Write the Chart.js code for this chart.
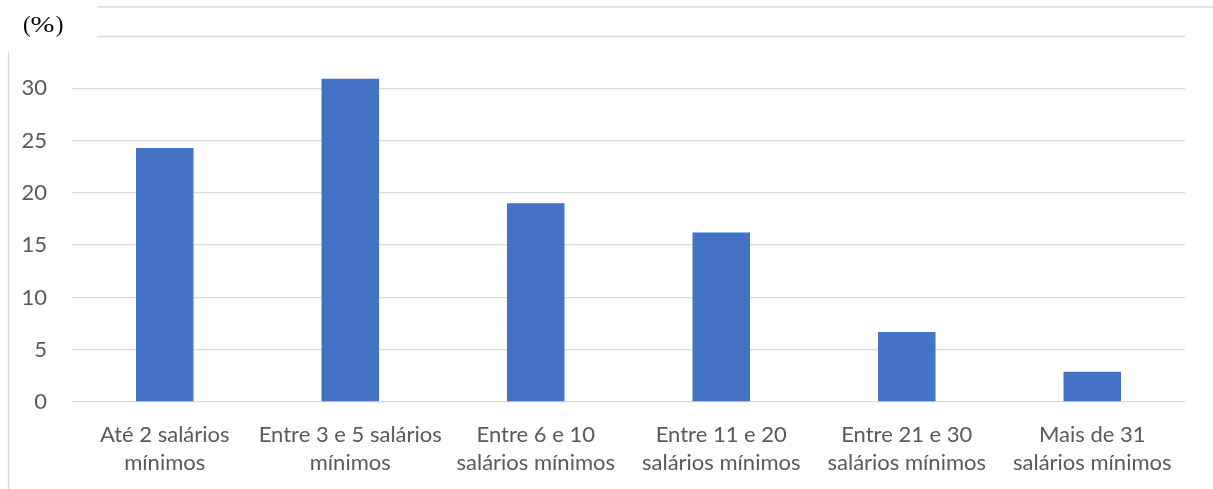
<!DOCTYPE html>
<html>
<head>
<meta charset="utf-8">
<script src="https://cdn.jsdelivr.net/npm/chart.js@4"></script>
<style>
  html, body { margin: 0; padding: 0; background: #fff; }
  #wrap { position: relative; width: 1213px; height: 489px; }
  #unit { position: absolute; left: 23px; top: 12px; font-family: "Liberation Serif", serif; font-size: 23px; color: #000; }
  #unit span { display: inline-block; transform: scaleX(1.25); margin: 0 4px 0 2px; }
</style>
</head>
<body>
<div id="wrap">
  <canvas id="renda" width="1213" height="489"></canvas>
  <div id="unit">(<span>%</span>)</div>
</div>
<script>
const faixas = [
  ['Até 2 salários', 'mínimos'],
  ['Entre 3 e 5 salários', 'mínimos'],
  ['Entre 6 e 10', 'salários mínimos'],
  ['Entre 11 e 20', 'salários mínimos'],
  ['Entre 21 e 30', 'salários mínimos'],
  ['Mais de 31', 'salários mínimos']
];
const percentuais = [24.3, 30.9, 19.0, 16.2, 6.7, 2.9];
const yTicks = [0, 5, 10, 15, 20, 25, 30, 35];

// frame lines plus the shortened top gridline
const frameLines = {
  id: 'frameLines',
  afterDraw(chart) {
    const ctx = chart.ctx;
    const y35 = Math.round(chart.scales.y.getPixelForValue(35)) + 0.5;
    ctx.save();
    ctx.strokeStyle = '#d9d9d9';
    ctx.lineWidth = 1.3;
    ctx.beginPath();
    ctx.moveTo(97, 7);
    ctx.lineTo(1213, 7);
    ctx.moveTo(97, y35);
    ctx.lineTo(chart.chartArea.right, y35);
    ctx.moveTo(8.5, 52);
    ctx.lineTo(8.5, 489);
    ctx.stroke();
    ctx.restore();
  }
};

const tickFont = { family: 'Lato, "Open Sans", sans-serif', size: 22 };

new Chart(document.getElementById('renda').getContext('2d'), {
  type: 'bar',
  data: {
    labels: faixas,
    datasets: [{
      data: percentuais,
      backgroundColor: '#4472c4',
      barPercentage: 0.31,
      categoryPercentage: 1
    }]
  },
  options: {
    responsive: false,
    animation: false,
    layout: { padding: { top: 36, right: 28, left: 0, bottom: 0 } },
    plugins: { legend: { display: false }, tooltip: { enabled: false } },
    scales: {
      x: {
        grid: { display: false, drawTicks: false },
        border: { display: false },
        ticks: { color: '#595959', font: { ...tickFont, lineHeight: 1.27 }, padding: 19, maxRotation: 0, autoSkip: false },
        afterFit(scale) { scale.height = 87; }
      },
      y: {
        min: 0,
        max: 35,
        afterBuildTicks(scale) { scale.ticks = yTicks.map(v => ({ value: v })); },
        grid: {
          color: ctx => (ctx.tick && ctx.tick.value === 35 ? 'rgba(0,0,0,0)' : '#d9d9d9'),
          lineWidth: 1.3,
          drawTicks: false
        },
        border: { display: false },
        ticks: {
          color: '#595959',
          font: { ...tickFont, lineHeight: 1 },
          padding: 25,
          callback: v => (v === 35 ? '' : v)
        },
        afterFit(scale) {
          scale.width = 72;
          scale.paddingTop = 0;
          scale.paddingBottom = 0;
        }
      }
    }
  },
  plugins: [frameLines]
});
</script>
</body>
</html>
